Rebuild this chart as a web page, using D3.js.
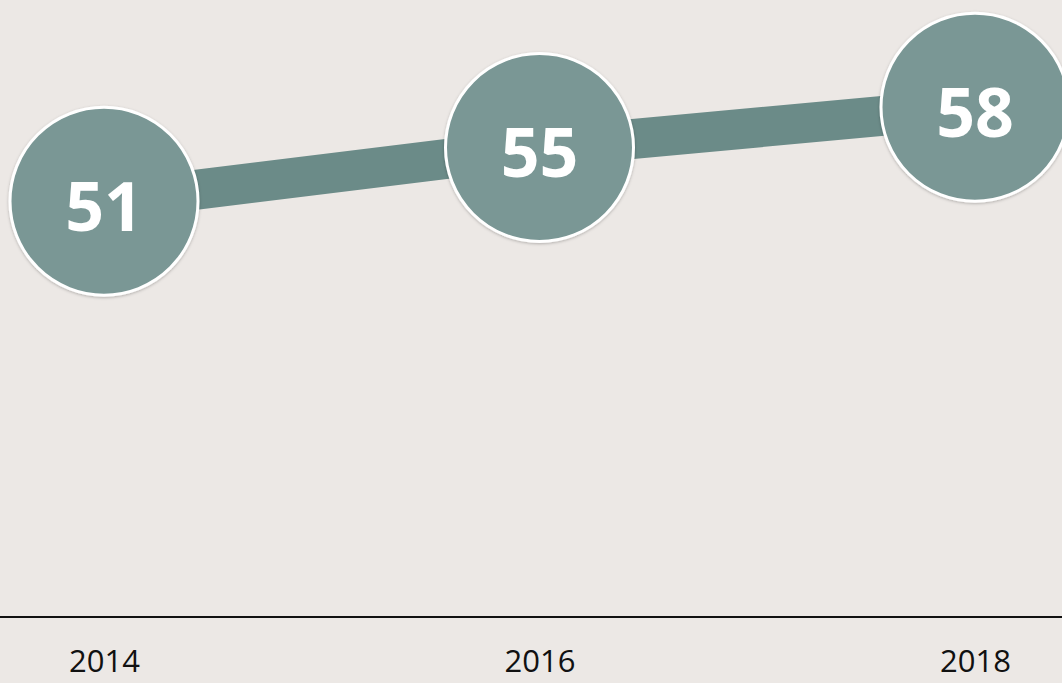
<!DOCTYPE html>
<html>
<head>
<meta charset="utf-8">
<script src="https://cdn.jsdelivr.net/npm/d3@7"></script>
<style>
  html, body { margin: 0; padding: 0; background: #ece8e5; overflow: hidden; }
  svg { display: block; }
</style>
</head>
<body>
<div id="chart"></div>
<script>
var years = ['2014', '2016', '2018'];
var values = [51, 55, 58];

var width = 1062, height = 683;

var svg = d3.select('#chart')
    .append('svg')
        .attr('width', width)
        .attr('height', height);

svg.append('rect')
    .attr('width', width)
    .attr('height', height)
    .attr('fill', '#ece8e5');

var xScale = d3.scalePoint()
    .domain(years)
    .range([104, 975]);

var yScale = d3.scaleLinear()
    .domain([20, 66])
    .range([617, 0]);

// axis: baseline + year labels
var xAxis = d3.axisBottom(xScale).tickSize(0).tickPadding(33);
var axisG = svg.append('g')
    .attr('class', 'axis axis--x')
    .attr('transform', 'translate(0,617)')
    .call(xAxis);
axisG.select('.domain').remove();
axisG.selectAll('text')
    .attr('font-family', '"Open Sans", sans-serif')
    .attr('font-size', 31)
    .attr('fill', '#111');

svg.append('line')
    .attr('x1', 0)
    .attr('x2', width)
    .attr('y1', 617)
    .attr('y2', 617)
    .attr('stroke', '#111')
    .attr('stroke-width', 2);

var data = years.map(function(y, i) { return {year: y, value: values[i]}; });

var line = d3.line()
    .x(function(d) { return xScale(d.year); })
    .y(function(d) { return yScale(d.value); });

svg.append('path')
    .datum(data)
    .attr('d', line)
    .attr('fill', 'none')
    .attr('stroke', '#6b8b88')
    .attr('stroke-width', 40);

var defs = svg.append('defs');
var filter = defs.append('filter').attr('id', 'shadow')
    .attr('x', '-20%').attr('y', '-20%').attr('width', '140%').attr('height', '140%');
filter.append('feDropShadow')
    .attr('dx', 0).attr('dy', 1).attr('stdDeviation', 1.5)
    .attr('flood-color', '#000').attr('flood-opacity', 0.25);

var pt = svg.selectAll('.pt')
    .data(data)
    .enter().append('g')
        .attr('class', 'pt')
        .attr('transform', function(d) {
            return 'translate(' + xScale(d.year) + ',' + yScale(d.value) + ')';
        });

pt.append('circle')
    .attr('r', 94)
    .attr('fill', '#7a9795')
    .attr('stroke', '#fff')
    .attr('stroke-width', 3)
    .attr('filter', 'url(#shadow)');

pt.append('text')
    .attr('text-anchor', 'middle')
    .attr('y', 5)
    .attr('dy', '0.36em')
    .attr('font-family', '"Open Sans", sans-serif')
    .attr('font-weight', 700)
    .attr('font-size', 68)
    .attr('fill', '#fff')
    .text(function(d) { return d.value; });
</script>
</body>
</html>
